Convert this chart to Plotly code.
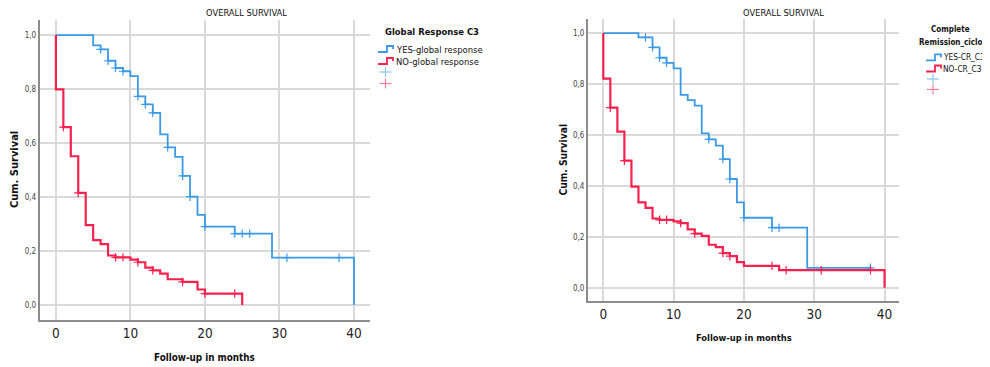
import plotly.graph_objects as go

# ---------------- data ----------------
x_ticks = [0, 10, 20, 30, 40]
x_tick_labels = ["0", "10", "20", "30", "40"]
y_ticks = [0.0, 0.2, 0.4, 0.6, 0.8, 1.0]
y_tick_labels = ["0,0", "0,2", "0,4", "0,6", "0,8", "1,0"]

# Left panel: Global Response C3
gr_yes_time = [0, 5, 6, 7, 8, 9, 10, 11, 12, 13, 14, 15, 16, 17, 18, 19, 20, 24, 29, 40]
gr_yes_surv = [1.0, 0.962, 0.947, 0.905, 0.878, 0.866, 0.848, 0.773, 0.743, 0.712, 0.632,
               0.584, 0.549, 0.478, 0.401, 0.334, 0.290, 0.264, 0.175, 0.0]
gr_yes_cens = [6, 7, 8, 9, 11, 12, 13, 15, 17, 18, 20, 24, 25, 26, 31, 38]

gr_no_time = [0, 0, 1, 2, 3, 4, 5, 6, 7, 8, 10, 11, 12, 13, 14, 15, 17, 19, 20, 25]
gr_no_surv = [1.0, 0.799, 0.659, 0.551, 0.415, 0.296, 0.240, 0.225, 0.183, 0.176, 0.168,
              0.158, 0.138, 0.128, 0.116, 0.095, 0.085, 0.057, 0.042, 0.0]
gr_no_cens = [1, 3, 8, 9, 11, 13, 17, 20, 24]

# Right panel: Complete Remission_ciclo.3
cr_yes_time = [0, 5, 7, 8, 9, 10, 11, 12, 13, 14, 15, 16, 17, 18, 19, 20, 24, 29, 38]
cr_yes_surv = [1.0, 0.983, 0.944, 0.903, 0.883, 0.861, 0.757, 0.737, 0.715, 0.606, 0.583,
               0.558, 0.505, 0.427, 0.335, 0.275, 0.236, 0.0785, 0.0785]
cr_yes_cens = [6, 7, 8, 9, 15, 17, 18, 20, 24, 25, 38]

cr_no_time = [0, 0, 1, 2, 3, 4, 5, 6, 7, 8, 10, 11, 12, 13, 14, 15, 16, 17, 18, 19, 20, 25, 40]
cr_no_surv = [1.0, 0.821, 0.707, 0.613, 0.499, 0.397, 0.335, 0.314, 0.272, 0.267, 0.261,
              0.254, 0.229, 0.213, 0.204, 0.169, 0.160, 0.136, 0.124, 0.101, 0.086, 0.069, 0.0]
cr_no_cens = [1, 3, 8, 9, 11, 13, 17, 18, 24, 26, 31, 38]

left_legend_title = "Global Response C3"
left_legend_labels = ["YES-global response", "NO-global response"]
right_legend_title = ["Complete", "Remission_ciclo.3"]
right_legend_labels = ["YES-CR_C3", "NO-CR_C3"]
chart_title = "OVERALL SURVIVAL"
x_title = "Follow-up in months"
y_title = "Cum. Survival"

# ---------------- style ----------------
BLUE = "#3b9ae6"
RED = "#f5214f"
OFF = 8                      # browser body margin
W, H = 990 - OFF, 367 - OFF
FONT = "DejaVu Sans Condensed, Liberation Sans, sans-serif"


def surv_at(times, survs, t):
    s = survs[0]
    for ti, si in zip(times, survs):
        if ti <= t:
            s = si
    return s


def px(x):
    return (x - OFF) / W


def py(y):
    return 1 - (y - OFF) / H


fig = go.Figure()

panels = [
    ("x", "y", gr_yes_time, gr_yes_surv, gr_yes_cens, gr_no_time, gr_no_surv, gr_no_cens),
    ("x2", "y2", cr_yes_time, cr_yes_surv, cr_yes_cens, cr_no_time, cr_no_surv, cr_no_cens),
]

for xa, ya, yt, ys, yc, nt, ns, nc in panels:
    for t, s, c, col, lw in [(yt, ys, yc, BLUE, 1.8), (nt, ns, nc, RED, 2.2)]:
        fig.add_trace(go.Scatter(
            x=t, y=s, mode="lines", line=dict(color=col, width=lw, shape="hv"),
            xaxis=xa, yaxis=ya, showlegend=False, hoverinfo="skip"))
        fig.add_trace(go.Scatter(
            x=c, y=[surv_at(t, s, ci) for ci in c], mode="markers",
            marker=dict(symbol="cross-thin", size=6, line=dict(color=col, width=1.2)),
            xaxis=xa, yaxis=ya, showlegend=False, hoverinfo="skip"))

axis_common = dict(
    showgrid=True, gridcolor="#d9d9d9", gridwidth=1.5,
    showline=True, linecolor="#8c8c8c", linewidth=1.5, mirror=False,
    zeroline=False, ticks="", fixedrange=True,
)

fig.update_layout(
    width=W, height=H,
    margin=dict(l=0, r=0, t=0, b=0),
    paper_bgcolor="white", plot_bgcolor="white",
    font=dict(family=FONT, color="#222"),
    showlegend=False,
    xaxis=dict(domain=[px(39.5), px(370)], range=[-2.2, 42.15], anchor="y",
               tickvals=x_ticks, ticktext=x_tick_labels,
               tickfont=dict(size=13.5, color="#222"), **axis_common),
    yaxis=dict(domain=[py(320), py(20)], range=[-0.056, 1.056], anchor="x",
               tickvals=y_ticks, ticktext=y_tick_labels,
               tickfont=dict(size=8, color="#444"), **axis_common),
    xaxis2=dict(domain=[px(587.7), px(899.3)], range=[-2.22, 42.1], anchor="y2",
                tickvals=x_ticks, ticktext=x_tick_labels,
                tickfont=dict(size=13.5, color="#222"), **axis_common),
    yaxis2=dict(domain=[py(301.3), py(19.3)], range=[-0.053, 1.054], anchor="x2",
                tickvals=y_ticks, ticktext=y_tick_labels,
                tickfont=dict(size=8, color="#444"), **axis_common),
)

ann = []


def text(x, y, s, size, bold=False, xanchor="center", angle=0, color="#111"):
    ann.append(dict(
        x=px(x), y=py(y), xref="paper", yref="paper", text=f"<b>{s}</b>" if bold else s,
        showarrow=False, xanchor=xanchor, yanchor="middle", textangle=angle,
        font=dict(size=size, color=color, family=FONT)))


# titles
text(246.7, 12.6, chart_title, 9.3)
text(783, 12.6, chart_title, 9.3)
# axis titles
text(14, 170, y_title, 11, bold=True, angle=-90)
text(563, 159.5, y_title, 10.2, bold=True, angle=-90)
text(204.7, 357, x_title, 9.8, bold=True)
text(743.5, 337, x_title, 9.3, bold=True)

# left legend
text(383, 32, left_legend_title, 9.4, bold=True, xanchor="left")
text(394, 49, left_legend_labels[0], 9.4, xanchor="left")
text(394, 61, left_legend_labels[1], 9.4, xanchor="left")
# right legend
text(950, 30, right_legend_title[0], 8.0, bold=True)
text(916.7, 42, right_legend_title[1], 8.0, bold=True, xanchor="left")
text(941, 57.3, right_legend_labels[0], 8.3, xanchor="left")
text(941, 68.5, right_legend_labels[1], 8.3, xanchor="left")

shapes = []


def step_symbol(x0, y, col):
    path = (f"M {px(x0)},{py(y + 3)} L {px(x0 + 9)},{py(y + 3)} L {px(x0 + 9)},{py(y - 3)} "
            f"L {px(x0 + 15)},{py(y - 3)} L {px(x0 + 15)},{py(y)}")
    shapes.append(dict(type="path", path=path, xref="paper", yref="paper",
                       line=dict(color=col, width=1.8)))


def plus_symbol(xc, yc, col):
    shapes.append(dict(type="line", xref="paper", yref="paper",
                       x0=px(xc - 6), x1=px(xc + 6), y0=py(yc), y1=py(yc),
                       line=dict(color=col, width=1.2)))
    shapes.append(dict(type="line", xref="paper", yref="paper",
                       x0=px(xc), x1=px(xc), y0=py(yc - 5), y1=py(yc + 5),
                       line=dict(color=col, width=1.2)))


step_symbol(378, 49, BLUE)
step_symbol(378, 61, RED)
plus_symbol(385.5, 72, "#8cc3f0")
plus_symbol(385.5, 83.5, "#f7819b")

step_symbol(926, 57.3, BLUE)
step_symbol(926, 68.5, RED)
plus_symbol(933, 79, "#8cc3f0")
plus_symbol(933, 89.5, "#f7819b")

fig.update_layout(annotations=ann, shapes=shapes)
fig.write_html("out.html")
